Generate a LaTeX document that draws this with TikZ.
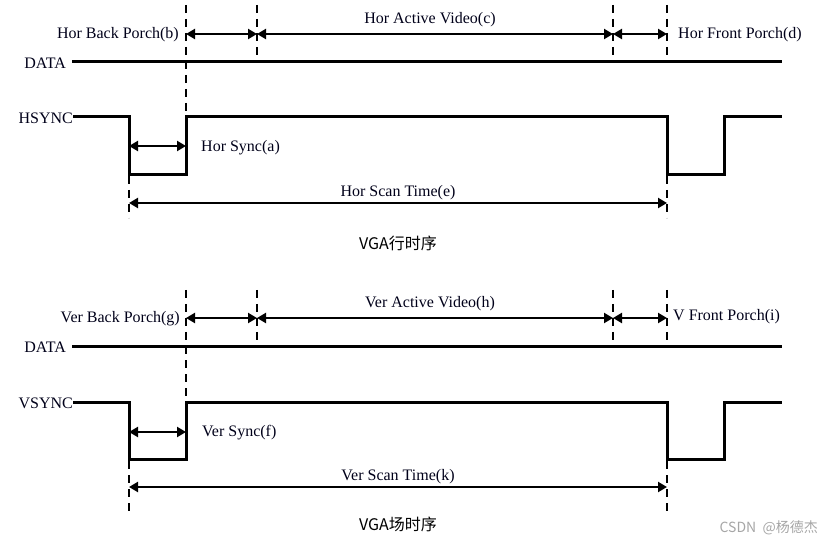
\documentclass[tikz,border=0pt]{standalone}
\usepackage{fontspec}
\setmainfont{Liberation Serif}
\newfontfamily\cjk{Noto Sans CJK SC}
\usetikzlibrary{arrows.meta}
\begin{document}
\begin{tikzpicture}[x=1pt,y=-1pt,
  sig/.style={line width=3pt},
  dim/.style={line width=2.6pt,{Triangle[length=9pt,width=10pt]}-{Triangle[length=9pt,width=10pt]}},
  guide/.style={line width=1.6pt,dash pattern=on 8pt off 6pt},
  lbl/.style={font=\fontsize{16}{18}\selectfont,inner sep=0pt,text=black!90!blue},
  ttl/.style={font=\cjk\fontsize{16}{18}\selectfont,inner sep=0pt}]
\useasboundingbox (0,0) rectangle (830,545);
% ---------------- upper half: horizontal timing
\coordinate (hx2t) at (186,5);   \coordinate (hx2b) at (186,117);
\coordinate (hx3t) at (257,5);   \coordinate (hx3b) at (257,62);
\coordinate (hx4t) at (613,5);   \coordinate (hx4b) at (613,62);
\coordinate (hx5t) at (667,5);   \coordinate (hx5b) at (667,62);
\coordinate (hx1l) at (129,176); \coordinate (hx1e) at (129,218);
\coordinate (hx5l) at (667,176); \coordinate (hx5e) at (667,218);
\draw[guide] (hx2t) -- (hx2b);
\draw[guide] (hx3t) -- (hx3b);
\draw[guide] (hx4t) -- (hx4b);
\draw[guide] (hx5t) -- (hx5b);
\draw[guide] (hx1l) -- (hx1e);
\draw[guide] (hx5l) -- (hx5e);
\node[lbl,anchor=east] (hdata) at (66,63) {DATA};
\coordinate (hdataend) at (782,62);
\draw[sig] (hdata.east) ++(6,-1) coordinate (hdatas) -- (hdataend);
\node[lbl,anchor=east] (hsync) at (73,118) {HSYNC};
\draw[sig] (hsync.east) ++(0,-1) -- (129,117) -- (129,175) -- (186,175) -- (186,117)
  -- (667,117) -- (667,175) -- (724,175) -- (724,117) -- (782,117);
\coordinate (ha1) at (186,34); \coordinate (ha2) at (257,34);
\coordinate (ha3) at (613,34); \coordinate (ha4) at (667,34);
\draw[dim] (ha1) -- (ha2);
\draw[dim] (ha2) -- (ha3);
\draw[dim] (ha3) -- (ha4);
\node[lbl,anchor=east] (hbp) at (179,35) {Hor Back Porch(b)};
\node[lbl] (hav) at (430,20) {Hor Active Video(c)};
\node[lbl,anchor=west] (hfp) at (678,35) {Hor Front Porch(d)};
\coordinate (hs1) at (129,146); \coordinate (hs2) at (186,146);
\draw[dim] (hs1) -- (hs2);
\node[lbl,anchor=west] (hsa) at (201,148) {Hor Sync(a)};
\coordinate (he1) at (129,203); \coordinate (he2) at (667,203);
\draw[dim] (he1) -- (he2);
\node[lbl] (hst) at (398,193) {Hor Scan Time(e)};
\node[ttl] (httl) at (398,243) {VGA行时序};
% ---------------- lower half: vertical timing
\coordinate (vx2t) at (186,290); \coordinate (vx2b) at (186,402);
\coordinate (vx3t) at (257,290); \coordinate (vx3b) at (257,346);
\coordinate (vx4t) at (613,290); \coordinate (vx4b) at (613,346);
\coordinate (vx5t) at (667,290); \coordinate (vx5b) at (667,346);
\coordinate (vx1l) at (129,461); \coordinate (vx1e) at (129,515);
\coordinate (vx5l) at (667,461); \coordinate (vx5e) at (667,515);
\draw[guide] (vx2t) -- (vx2b);
\draw[guide] (vx3t) -- (vx3b);
\draw[guide] (vx4t) -- (vx4b);
\draw[guide] (vx5t) -- (vx5b);
\draw[guide] (vx1l) -- (vx1e);
\draw[guide] (vx5l) -- (vx5e);
\node[lbl,anchor=east] (vdata) at (66,347) {DATA};
\coordinate (vdataend) at (782,346);
\draw[sig] (vdata.east) ++(6,-1) coordinate (vdatas) -- (vdataend);
\node[lbl,anchor=east] (vsync) at (73,403) {VSYNC};
\draw[sig] (vsync.east) ++(0,-1) -- (129,402) -- (129,459) -- (186,459) -- (186,402)
  -- (667,402) -- (667,459) -- (724,459) -- (724,402) -- (782,402);
\coordinate (va1) at (186,318); \coordinate (va2) at (257,318);
\coordinate (va3) at (613,318); \coordinate (va4) at (667,318);
\draw[dim] (va1) -- (va2);
\draw[dim] (va2) -- (va3);
\draw[dim] (va3) -- (va4);
\node[lbl,anchor=east] (vbp) at (180,319) {Ver Back Porch(g)};
\node[lbl] (vav) at (430,304) {Ver Active Video(h)};
\node[lbl,anchor=west] (vfp) at (673,317) {V Front Porch(i)};
\coordinate (vs1) at (129,432); \coordinate (vs2) at (186,432);
\draw[dim] (vs1) -- (vs2);
\node[lbl,anchor=west] (vsf) at (202,433) {Ver Sync(f)};
\coordinate (ve1) at (129,487); \coordinate (ve2) at (667,487);
\draw[dim] (ve1) -- (ve2);
\node[lbl] (vst) at (398,477) {Ver Scan Time(k)};
\node[ttl] (vttl) at (398,524) {VGA场时序};
% watermark
\node[font=\cjk\fontsize{14}{16}\selectfont,text=black!35,anchor=east,inner sep=0pt] (wm) at (818,528) {CSDN \ @杨德杰};
\end{tikzpicture}
\end{document}
